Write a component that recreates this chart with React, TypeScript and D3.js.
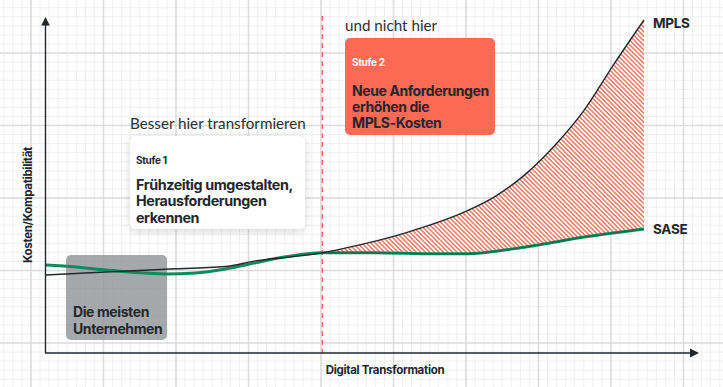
import React from "react";
import * as d3 from "d3";

const W = 723;
const H = 387;

// x in 0..100 (digital transformation), y in 0..100 (cost/compat)
const mplsX = [0, 10, 20, 30, 35, 40, 46.2, 50, 60, 70, 75, 80, 85, 90, 95, 100];
const mplsY = [23.3, 24.2, 25, 25.8, 27.5, 28.5, 29.9, 31.3, 35.8, 42.1, 46.6, 53.1, 61.8, 72.5, 86.3, 99.4];
const saseX = [0, 5, 10, 15, 20, 25, 30, 35, 40, 46.2, 55, 65, 70, 80, 90, 100];
const saseY = [26.3, 25.7, 24.8, 24.0, 23.6, 23.9, 25.1, 26.9, 28.7, 29.9, 29.9, 29.6, 29.6, 31.6, 34.6, 37.0];
const splitX = 46.2;

const seriesLabels = ["MPLS", "SASE"];
const axisLabels = ["Digital Transformation", "Kosten/Kompatibilität"];
const box1Lines = ["Frühzeitig umgestalten,", "Herausforderungen", "erkennen"];
const box2Lines = ["Neue Anforderungen", "erhöhen die", "MPLS-Kosten"];
const grayLines = ["Die meisten", "Unternehmen"];

export default function App() {
  const x = d3.scaleLinear().domain([0, 100]).range([46, 644]);
  const y = d3.scaleLinear().domain([0, 100]).range([353, 18]);

  const mpls = mplsX.map((v, i) => [v, mplsY[i]] as [number, number]);
  const sase = saseX.map((v, i) => [v, saseY[i]] as [number, number]);

  const line = d3
    .line<[number, number]>()
    .x((d) => x(d[0]))
    .y((d) => y(d[1]))
    .curve(d3.curveMonotoneX);

  // area between curves from split to end
  const areaTop = mpls.filter((d) => d[0] >= splitX);
  const areaBottom = sase.filter((d) => d[0] >= splitX).slice().reverse();
  const topPath = line(areaTop) || "";
  const bottomPath = line(areaBottom) || "";
  const areaPath = topPath + "L" + bottomPath.slice(1) + "Z";

  // grid
  const majorStep = 72.5;
  const minorStep = majorStep / 8;
  const vx0 = 31;
  const hy0 = 53;
  const minorV: number[] = [];
  for (let v = vx0 - majorStep; v < W; v += minorStep) if (v >= 0) minorV.push(v);
  const minorH: number[] = [];
  for (let v = hy0 - majorStep; v < H; v += minorStep) if (v >= 0) minorH.push(v);
  const majorV: number[] = [];
  for (let v = vx0; v < W; v += majorStep) majorV.push(v);
  const majorH: number[] = [];
  for (let v = hy0; v < H; v += majorStep) majorH.push(v);

  const boldFont = "Inter, 'Noto Sans', sans-serif";
  const lightFont = "Lato, 'Open Sans', sans-serif";
  const dark = "#23272c";

  return (
    <div style={{ position: "absolute", left: 0, top: 0 }}>
      <svg width={W} height={H} style={{ display: "block", background: "#fff" }}>
        <defs>
          <pattern
            id="hatch"
            patternUnits="userSpaceOnUse"
            width={3.2}
            height={3.2}
            patternTransform="rotate(-45)"
          >
            <rect width={3.2} height={3.2} fill="#fff" />
            <rect width={1.6} height={3.2} fill="#f5806e" />
          </pattern>
          <filter id="shadow" x="-20%" y="-20%" width="140%" height="150%">
            <feDropShadow dx="0" dy="2" stdDeviation="4" floodColor="#000" floodOpacity="0.16" />
          </filter>
        </defs>

        {/* grid */}
        <g>
          {minorV.map((v, i) => (
            <line key={"mv" + i} x1={v} x2={v} y1={0} y2={H} stroke="#efefef" strokeWidth={1} />
          ))}
          {minorH.map((v, i) => (
            <line key={"mh" + i} x1={0} x2={W} y1={v} y2={v} stroke="#efefef" strokeWidth={1} />
          ))}
          {majorV.map((v, i) => (
            <line key={"Mv" + i} x1={v} x2={v} y1={0} y2={H} stroke="#dcdcdc" strokeWidth={1.6} />
          ))}
          {majorH.map((v, i) => (
            <line key={"Mh" + i} x1={0} x2={W} y1={v} y2={v} stroke="#dcdcdc" strokeWidth={1.6} />
          ))}
        </g>

        {/* hatched area */}
        <path d={areaPath} fill="url(#hatch)" stroke="none" />

        {/* dashed divider */}
        <line
          x1={x(splitX)}
          x2={x(splitX)}
          y1={16}
          y2={y(0)}
          stroke="#f26a5a"
          strokeWidth={1.3}
          strokeDasharray="5,4"
        />

        {/* gray box */}
        <rect x={66} y={255} width={101} height={85} rx={5} fill="#8f9397" opacity={0.8} />
        {grayLines.map((t, i) => (
          <text
            key={"g" + i}
            x={73}
            y={317 + i * 16.5}
            fontFamily={boldFont}
            fontWeight={700}
            fontSize={14}
            letterSpacing={-0.4}
            fill={dark}
          >
            {t}
          </text>
        ))}

        {/* lines */}
        <path d={line(sase) || ""} fill="none" stroke="#0f8a5d" strokeWidth={3} />
        <path d={line(sase.filter((d) => d[0] >= splitX)) || ""} fill="none" stroke="#1d3a30" strokeWidth={0.8} opacity={0.6} />
        <path d={line(mpls) || ""} fill="none" stroke="#24282c" strokeWidth={1.4} />

        {/* axes */}
        <line x1={x(0) - 0.5} x2={x(0) - 0.5} y1={24} y2={y(0)} stroke={dark} strokeWidth={1.4} />
        <path d={`M${x(0) - 0.5},17 L${x(0) - 4.8},25.5 L${x(0) + 3.8},25.5 Z`} fill={dark} />
        <line x1={x(0) - 1} x2={691} y1={y(0)} y2={y(0)} stroke={dark} strokeWidth={1.4} />
        <path d={`M699,${y(0)} L690,${y(0) - 4.5} L690,${y(0) + 4.5} Z`} fill={dark} />

        {/* axis labels */}
        <text
          x={385}
          y={374}
          textAnchor="middle"
          fontFamily={boldFont}
          fontWeight={700}
          fontSize={11.5}
          letterSpacing={-0.3}
          fill={dark}
        >
          {axisLabels[0]}
        </text>
        <text
          transform="translate(32,205) rotate(-90)"
          textAnchor="middle"
          fontFamily={boldFont}
          fontWeight={700}
          fontSize={11.5}
          letterSpacing={-0.3}
          fill={dark}
        >
          {axisLabels[1]}
        </text>

        {/* series labels */}
        <text x={653} y={28} fontFamily={boldFont} fontWeight={700} fontSize={13.5} letterSpacing={-0.3} fill={dark}>
          {seriesLabels[0]}
        </text>
        <text x={653} y={234} fontFamily={boldFont} fontWeight={700} fontSize={13.5} letterSpacing={-0.3} fill={dark}>
          {seriesLabels[1]}
        </text>

        {/* box 1 */}
        <text x={130} y={129} fontFamily={lightFont} fontSize={15.2} fill="#2c3035">
          Besser hier transformieren
        </text>
        <rect x={130} y={136} width={175} height={93} rx={6} fill="#fff" filter="url(#shadow)" />
        <text x={136} y={164} fontFamily={boldFont} fontWeight={700} fontSize={10} letterSpacing={-0.3} fill={dark}>
          Stufe 1
        </text>
        {box1Lines.map((t, i) => (
          <text
            key={"b1" + i}
            x={136}
            y={190 + i * 16.3}
            fontFamily={boldFont}
            fontWeight={700}
            fontSize={14.3}
            letterSpacing={-0.4}
            fill={dark}
          >
            {t}
          </text>
        ))}

        {/* box 2 */}
        <text x={345} y={31} fontFamily={lightFont} fontSize={15.2} fill="#2c3035">
          und nicht hier
        </text>
        <rect x={345} y={38} width={150} height={97} rx={5} fill="#fb6a55" />
        <text x={352} y={66} fontFamily={boldFont} fontWeight={700} fontSize={10} letterSpacing={-0.3} fill="#fff">
          Stufe 2
        </text>
        {box2Lines.map((t, i) => (
          <text
            key={"b2" + i}
            x={352}
            y={96 + i * 16}
            fontFamily={boldFont}
            fontWeight={700}
            fontSize={14}
            letterSpacing={-0.4}
            fill={dark}
          >
            {t}
          </text>
        ))}
      </svg>
    </div>
  );
}
